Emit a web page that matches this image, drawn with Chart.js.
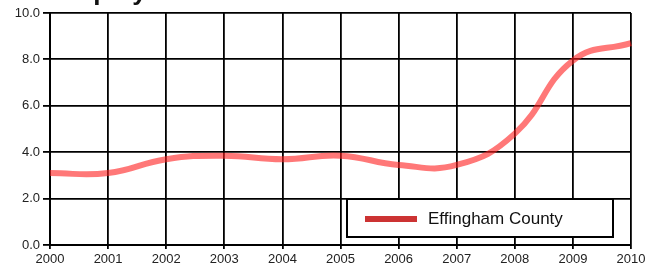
<!DOCTYPE html>
<html>
<head>
<meta charset="utf-8">
<script src="https://cdn.jsdelivr.net/npm/chart.js@4/dist/chart.umd.min.js"></script>
<style>
html,body{margin:0;padding:0;background:#fff;}
#wrap{width:655px;height:269px;position:relative;}
</style>
</head>
<body>
<div id="wrap"><canvas id="c" width="655" height="269"></canvas></div>
<script>
const titleText = "Unemployment Rate Trends";
const years = ["2000","2001","2002","2003","2004","2005","2006","2007","2008","2009","2010"];
const effinghamRates = [3.1, 3.1, 3.7, 3.85, 3.7, 3.85, 3.45, 3.45, 4.8, 7.95, 8.7];
const seriesName = "Effingham County";
const yTicks = [0, 2, 4, 6, 8, 10];

const topTitle = {
  id: 'topTitle',
  afterDraw(chart) {
    const ctx = chart.ctx;
    ctx.save();
    ctx.font = 'bold 26px "Liberation Sans", Arial, sans-serif';
    ctx.fillStyle = '#111';
    ctx.textBaseline = 'alphabetic';
    ctx.textAlign = 'left';
    ctx.fillText(titleText, 21, -0.5);
    ctx.restore();
  }
};

const boxLegend = {
  id: 'boxLegend',
  afterDraw(chart) {
    const ctx = chart.ctx;
    const x0 = 347, y0 = 199, w = 266, h = 38;
    ctx.save();
    ctx.fillStyle = '#fff';
    ctx.fillRect(x0, y0, w, h);
    ctx.strokeStyle = '#000';
    ctx.lineWidth = 2;
    ctx.strokeRect(x0, y0, w, h);
    ctx.strokeStyle = '#cc3333';
    ctx.lineWidth = 6;
    ctx.beginPath();
    ctx.moveTo(365, 219);
    ctx.lineTo(417, 219);
    ctx.stroke();
    ctx.fillStyle = '#111';
    ctx.font = '17px "Liberation Sans", Arial, sans-serif';
    ctx.textBaseline = 'middle';
    ctx.fillText(chart.data.datasets[0].label, 428, 219);
    ctx.restore();
  }
};

new Chart(document.getElementById('c'), {
  type: 'line',
  data: {
    labels: years,
    datasets: [{
      label: seriesName,
      data: effinghamRates,
      borderColor: 'rgba(255,30,30,0.6)',
      borderWidth: 6,
      pointRadius: 0,
      tension: 0.45,
      fill: false
    }]
  },
  options: {
    responsive: false,
    animation: false,
    devicePixelRatio: 1,
    layout: { padding: { top: 13, right: 24, left: 0, bottom: 0 } },
    plugins: { legend: { display: false }, title: { display: false }, tooltip: { enabled: false } },
    scales: {
      x: {
        offset: false,
        afterFit(s) { s.height = 24; },
        grid: { color: '#000', lineWidth: 1.8, tickLength: 4, drawTicks: true },
        border: { color: '#000', width: 2 },
        ticks: { color: '#222', padding: 3, maxRotation: 0, autoSkip: false,
                 font: { family: '"Liberation Sans", Arial, sans-serif', size: 13 } }
      },
      y: {
        min: 0, max: 10,
        afterFit(s) { s.width = 50; },
        afterBuildTicks(s) { s.ticks = yTicks.map(v => ({ value: v })); },
        grid: { color: '#000', lineWidth: 1.8, tickLength: 7, drawTicks: true },
        border: { color: '#000', width: 2 },
        ticks: { color: '#222', padding: 3,
                 font: { family: '"Liberation Sans", Arial, sans-serif', size: 13 },
                 callback: v => Number(v).toFixed(1) }
      }
    }
  },
  plugins: [topTitle, boxLegend]
});
</script>
</body>
</html>
